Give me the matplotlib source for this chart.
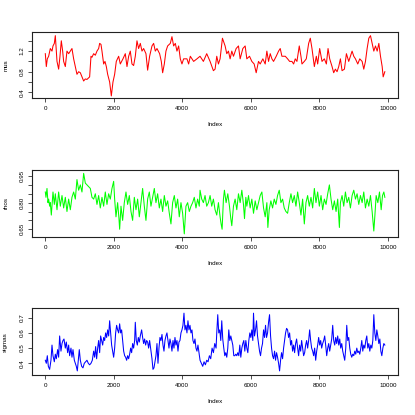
import numpy as np
import matplotlib
matplotlib.use("Agg")
import matplotlib.pyplot as plt

# MCMC traces (iteration index, value)
mus_trace = [
    (0, 1.15), (29, 0.90), (58, 1.05), (97, 1.10), (146, 1.25), (195, 1.20), (224, 1.30),
    (263, 1.35), (292, 1.50), (341, 1.00), (389, 0.85), (428, 1.10), (467, 1.40), (506, 1.20),
    (535, 1.00), (584, 0.90), (632, 1.20), (681, 1.15), (730, 1.20), (778, 1.25), (827, 1.05),
    (876, 0.90), (924, 0.75), (973, 0.80), (1022, 0.78), (1070, 0.70), (1119, 0.62), (1168, 0.66),
    (1216, 0.65), (1265, 0.68), (1294, 0.70), (1333, 1.10), (1362, 1.08), (1411, 1.15), (1460, 1.12),
    (1508, 1.20), (1557, 1.25), (1586, 1.35), (1625, 1.33), (1654, 1.20), (1703, 0.95), (1742, 1.00),
    (1781, 0.90), (1820, 0.75), (1878, 0.60), (1927, 0.33), (1975, 0.60), (2024, 0.75), (2072, 1.00),
    (2141, 1.10), (2189, 0.95), (2267, 1.05), (2335, 1.15), (2384, 0.90), (2433, 1.10), (2481, 1.20),
    (2530, 0.95), (2578, 0.92), (2627, 1.10), (2676, 1.40), (2724, 1.25), (2773, 1.35), (2822, 1.20),
    (2870, 1.25), (2938, 1.15), (2987, 0.83), (3045, 1.10), (3114, 1.30), (3162, 1.35), (3211, 1.20),
    (3260, 1.25), (3337, 1.15), (3386, 1.00), (3425, 0.78), (3474, 0.95), (3522, 1.20), (3571, 1.30),
    (3649, 1.35), (3697, 1.48), (3746, 1.30), (3795, 1.35), (3843, 1.20), (3892, 1.30), (3941, 1.05),
    (3989, 0.95), (4038, 1.05), (4135, 1.05), (4184, 0.95), (4233, 1.10), (4330, 1.00), (4427, 1.05),
    (4517, 1.10), (4615, 1.00), (4712, 1.15), (4810, 1.00), (4907, 0.82), (4956, 0.85), (5005, 1.10),
    (5054, 0.95), (5102, 1.05), (5171, 1.45), (5249, 1.30), (5297, 1.15), (5346, 1.20), (5395, 1.05),
    (5444, 1.20), (5493, 1.10), (5571, 1.25), (5639, 1.30), (5688, 1.05), (5766, 1.25), (5834, 1.30),
    (5883, 1.05), (5961, 1.10), (6029, 1.00), (6097, 0.95), (6156, 0.78), (6224, 1.00), (6273, 0.95),
    (6351, 1.05), (6419, 0.95), (6468, 1.20), (6517, 1.00), (6566, 1.15), (6615, 1.05), (6663, 1.00),
    (6741, 1.10), (6810, 1.20), (6858, 1.25), (6907, 1.10), (7005, 1.10), (7073, 1.05), (7132, 1.00),
    (7200, 1.00), (7249, 0.95), (7297, 1.05), (7346, 1.00), (7414, 1.30), (7463, 1.10), (7493, 0.95),
    (7561, 1.00), (7619, 1.05), (7688, 1.35), (7736, 1.45), (7785, 1.25), (7854, 0.90), (7912, 1.10),
    (7951, 0.95), (8010, 1.25), (8078, 1.00), (8146, 1.05), (8205, 0.95), (8254, 1.25), (8302, 1.05),
    (8371, 0.90), (8419, 0.78), (8468, 0.85), (8517, 0.80), (8566, 0.90), (8615, 1.05), (8663, 0.82),
    (8732, 0.85), (8790, 1.15), (8858, 1.00), (8907, 1.10), (8956, 1.20), (9005, 1.10), (9054, 1.05),
    (9122, 0.95), (9180, 1.05), (9249, 1.00), (9297, 0.85), (9346, 1.00), (9395, 1.25), (9444, 1.45),
    (9493, 1.50), (9541, 1.35), (9590, 1.20), (9639, 1.30), (9688, 1.20), (9737, 1.35), (9785, 1.10),
    (9834, 0.90), (9863, 0.70), (9912, 0.80),
]

rhos_trace = [
    (0, 0.86), (19, 0.83), (49, 0.88), (78, 0.80), (97, 0.82), (126, 0.78), (146, 0.80), (175, 0.73),
    (224, 0.86), (263, 0.79), (292, 0.85), (341, 0.76), (389, 0.86), (438, 0.78), (487, 0.84),
    (535, 0.77), (584, 0.83), (632, 0.75), (681, 0.82), (730, 0.76), (778, 0.83), (827, 0.86),
    (876, 0.82), (924, 0.93), (973, 0.87), (1022, 0.90), (1070, 0.86), (1119, 0.965), (1168, 0.91),
    (1216, 0.90), (1265, 0.89), (1314, 0.88), (1362, 0.83), (1411, 0.82), (1460, 0.85), (1508, 0.79),
    (1557, 0.84), (1605, 0.77), (1654, 0.83), (1703, 0.78), (1751, 0.86), (1800, 0.79), (1849, 0.85),
    (1897, 0.82), (1946, 0.88), (1995, 0.92), (2024, 0.82), (2063, 0.72), (2111, 0.80), (2150, 0.71),
    (2170, 0.65), (2209, 0.78), (2257, 0.70), (2306, 0.80), (2355, 0.86), (2403, 0.79), (2452, 0.84),
    (2501, 0.75), (2549, 0.70), (2598, 0.83), (2647, 0.76), (2695, 0.82), (2744, 0.72), (2792, 0.80),
    (2841, 0.88), (2890, 0.78), (2938, 0.70), (2987, 0.82), (3036, 0.86), (3084, 0.78), (3133, 0.83),
    (3182, 0.88), (3230, 0.80), (3279, 0.85), (3328, 0.77), (3376, 0.82), (3425, 0.75), (3474, 0.84),
    (3522, 0.78), (3571, 0.81), (3620, 0.74), (3668, 0.68), (3717, 0.80), (3766, 0.84), (3814, 0.77),
    (3863, 0.82), (3911, 0.72), (3960, 0.80), (4009, 0.74), (4057, 0.624), (4106, 0.78), (4155, 0.80),
    (4203, 0.75), (4252, 0.78), (4301, 0.80), (4349, 0.83), (4398, 0.77), (4447, 0.82), (4495, 0.78),
    (4517, 0.87), (4566, 0.82), (4615, 0.80), (4663, 0.84), (4712, 0.78), (4761, 0.80), (4810, 0.84),
    (4858, 0.78), (4907, 0.82), (4956, 0.76), (5005, 0.73), (5054, 0.80), (5102, 0.72), (5132, 0.68),
    (5161, 0.65), (5200, 0.82), (5229, 0.87), (5278, 0.80), (5327, 0.85), (5376, 0.78), (5415, 0.71),
    (5444, 0.67), (5493, 0.78), (5541, 0.82), (5590, 0.76), (5639, 0.85), (5688, 0.80), (5737, 0.87),
    (5785, 0.79), (5815, 0.71), (5854, 0.83), (5883, 0.78), (5932, 0.84), (5980, 0.77), (6029, 0.82),
    (6078, 0.74), (6127, 0.81), (6176, 0.76), (6224, 0.80), (6273, 0.84), (6322, 0.86), (6371, 0.77),
    (6419, 0.72), (6468, 0.80), (6497, 0.66), (6536, 0.76), (6585, 0.81), (6634, 0.77), (6683, 0.82),
    (6732, 0.79), (6780, 0.84), (6829, 0.87), (6878, 0.80), (6927, 0.82), (6975, 0.77), (7024, 0.75),
    (7073, 0.74), (7122, 0.80), (7171, 0.85), (7219, 0.80), (7268, 0.84), (7317, 0.78), (7366, 0.86),
    (7414, 0.80), (7463, 0.73), (7512, 0.82), (7561, 0.68), (7610, 0.80), (7658, 0.84), (7707, 0.78),
    (7756, 0.83), (7805, 0.77), (7854, 0.88), (7902, 0.80), (7951, 0.86), (8000, 0.78), (8049, 0.84),
    (8097, 0.76), (8146, 0.82), (8195, 0.79), (8244, 0.85), (8293, 0.90), (8341, 0.82), (8390, 0.76),
    (8439, 0.81), (8488, 0.75), (8536, 0.82), (8585, 0.66), (8615, 0.80), (8663, 0.84), (8712, 0.78),
    (8761, 0.86), (8810, 0.80), (8858, 0.83), (8907, 0.77), (8956, 0.84), (9005, 0.87), (9054, 0.82),
    (9102, 0.85), (9151, 0.79), (9200, 0.84), (9249, 0.80), (9297, 0.86), (9346, 0.77), (9395, 0.82),
    (9444, 0.78), (9493, 0.84), (9541, 0.75), (9590, 0.64), (9619, 0.72), (9658, 0.84), (9707, 0.80),
    (9756, 0.86), (9805, 0.76), (9844, 0.84), (9883, 0.86), (9912, 0.83),
]

sigmas_trace = [
    (0, 0.42), (29, 0.40), (58, 0.45), (88, 0.38), (126, 0.36), (165, 0.42), (195, 0.52), (224, 0.45),
    (263, 0.41), (292, 0.46), (321, 0.43), (360, 0.49), (389, 0.44), (418, 0.58), (457, 0.48),
    (487, 0.53), (516, 0.55), (545, 0.56), (584, 0.50), (613, 0.54), (652, 0.47), (681, 0.52),
    (710, 0.45), (749, 0.50), (778, 0.44), (808, 0.49), (847, 0.42), (876, 0.40), (905, 0.38),
    (934, 0.35), (963, 0.42), (992, 0.49), (1022, 0.42), (1061, 0.38), (1099, 0.37), (1138, 0.40),
    (1177, 0.41), (1216, 0.42), (1255, 0.40), (1294, 0.39), (1333, 0.40), (1372, 0.42), (1411, 0.48),
    (1440, 0.44), (1469, 0.51), (1498, 0.43), (1528, 0.50), (1557, 0.55), (1586, 0.47), (1615, 0.58),
    (1644, 0.55), (1674, 0.52), (1703, 0.57), (1732, 0.55), (1761, 0.60), (1790, 0.57), (1820, 0.62),
    (1849, 0.58), (1878, 0.68), (1907, 0.60), (1936, 0.52), (1965, 0.48), (1995, 0.44), (2024, 0.50),
    (2053, 0.60), (2082, 0.65), (2111, 0.62), (2141, 0.60), (2170, 0.66), (2199, 0.60), (2228, 0.62),
    (2257, 0.55), (2287, 0.48), (2316, 0.45), (2345, 0.44), (2374, 0.42), (2403, 0.45), (2433, 0.43),
    (2462, 0.46), (2491, 0.50), (2520, 0.47), (2549, 0.53), (2578, 0.50), (2608, 0.55), (2627, 0.67),
    (2656, 0.55), (2686, 0.52), (2715, 0.57), (2744, 0.54), (2773, 0.58), (2812, 0.62), (2841, 0.57),
    (2870, 0.53), (2899, 0.56), (2929, 0.52), (2958, 0.55), (2987, 0.54), (3016, 0.50), (3045, 0.55),
    (3084, 0.48), (3114, 0.43), (3143, 0.36), (3172, 0.37), (3201, 0.41), (3230, 0.45), (3260, 0.53),
    (3289, 0.40), (3318, 0.50), (3347, 0.57), (3376, 0.55), (3406, 0.59), (3435, 0.52), (3464, 0.48),
    (3493, 0.55), (3522, 0.58), (3551, 0.60), (3581, 0.55), (3610, 0.50), (3639, 0.56), (3668, 0.53),
    (3697, 0.48), (3727, 0.55), (3756, 0.50), (3785, 0.57), (3814, 0.52), (3843, 0.55), (3873, 0.48),
    (3902, 0.54), (3931, 0.55), (3960, 0.60), (3989, 0.62), (4018, 0.65), (4048, 0.73), (4077, 0.62),
    (4106, 0.65), (4135, 0.60), (4164, 0.68), (4194, 0.62), (4223, 0.65), (4252, 0.60), (4281, 0.62),
    (4310, 0.55), (4340, 0.53), (4369, 0.56), (4398, 0.50), (4427, 0.48), (4456, 0.52), (4486, 0.47),
    (4517, 0.42), (4556, 0.40), (4595, 0.38), (4634, 0.41), (4673, 0.39), (4712, 0.42), (4751, 0.41),
    (4790, 0.45), (4829, 0.43), (4868, 0.50), (4907, 0.47), (4946, 0.53), (4985, 0.50), (5005, 0.60),
    (5034, 0.72), (5063, 0.60), (5093, 0.62), (5122, 0.55), (5151, 0.68), (5180, 0.56), (5210, 0.50),
    (5239, 0.45), (5268, 0.47), (5297, 0.44), (5327, 0.50), (5356, 0.62), (5385, 0.55), (5415, 0.58),
    (5444, 0.55), (5473, 0.52), (5502, 0.45), (5532, 0.45), (5561, 0.46), (5590, 0.45), (5619, 0.47),
    (5649, 0.45), (5678, 0.52), (5707, 0.44), (5737, 0.50), (5766, 0.53), (5795, 0.55), (5824, 0.48),
    (5854, 0.55), (5883, 0.50), (5912, 0.47), (5941, 0.55), (5971, 0.60), (6000, 0.57), (6029, 0.62),
    (6058, 0.55), (6078, 0.73), (6107, 0.58), (6137, 0.62), (6166, 0.68), (6195, 0.58), (6224, 0.53),
    (6254, 0.48), (6283, 0.45), (6312, 0.50), (6341, 0.53), (6371, 0.62), (6400, 0.57), (6429, 0.65),
    (6458, 0.57), (6488, 0.60), (6517, 0.67), (6546, 0.72), (6576, 0.58), (6605, 0.50), (6634, 0.45),
    (6663, 0.43), (6693, 0.48), (6722, 0.42), (6751, 0.47), (6780, 0.44), (6810, 0.40), (6839, 0.35),
    (6868, 0.42), (6897, 0.47), (6927, 0.43), (6956, 0.50), (6985, 0.55), (7014, 0.60), (7044, 0.63),
    (7073, 0.62), (7102, 0.57), (7132, 0.60), (7161, 0.52), (7190, 0.55), (7219, 0.48), (7249, 0.52),
    (7278, 0.47), (7307, 0.53), (7336, 0.56), (7366, 0.50), (7395, 0.45), (7424, 0.52), (7454, 0.48),
    (7483, 0.55), (7512, 0.50), (7541, 0.45), (7571, 0.47), (7600, 0.52), (7629, 0.55), (7658, 0.50),
    (7688, 0.55), (7717, 0.62), (7746, 0.55), (7775, 0.50), (7805, 0.48), (7834, 0.45), (7863, 0.50),
    (7893, 0.42), (7922, 0.48), (7951, 0.52), (7980, 0.57), (8010, 0.52), (8039, 0.55), (8068, 0.50),
    (8097, 0.53), (8127, 0.55), (8156, 0.58), (8185, 0.52), (8215, 0.45), (8244, 0.50), (8273, 0.53),
    (8302, 0.48), (8332, 0.52), (8361, 0.56), (8390, 0.65), (8419, 0.55), (8449, 0.52), (8478, 0.57),
    (8507, 0.53), (8536, 0.58), (8566, 0.52), (8595, 0.56), (8624, 0.50), (8654, 0.53), (8683, 0.48),
    (8712, 0.45), (8741, 0.42), (8771, 0.50), (8800, 0.65), (8829, 0.55), (8858, 0.57), (8888, 0.50),
    (8917, 0.46), (8946, 0.44), (8975, 0.46), (9005, 0.45), (9034, 0.48), (9063, 0.46), (9093, 0.50),
    (9122, 0.47), (9151, 0.48), (9180, 0.46), (9210, 0.50), (9239, 0.55), (9268, 0.48), (9297, 0.52),
    (9327, 0.50), (9356, 0.55), (9385, 0.58), (9414, 0.50), (9444, 0.53), (9473, 0.48), (9502, 0.52),
    (9532, 0.50), (9561, 0.55), (9590, 0.72), (9619, 0.60), (9649, 0.55), (9678, 0.62), (9707, 0.58),
    (9737, 0.53), (9766, 0.56), (9795, 0.48), (9824, 0.45), (9854, 0.50), (9883, 0.53), (9912, 0.52),
]

x_ticks = [0, 2000, 4000, 6000, 8000, 10000]

# panel settings: name, trace, colour, ylim, yticks, labelled yticks
panels = [
    ("mus", mus_trace, "#ff0000", (0.284, 1.565),
     [0.4, 0.6, 0.8, 1.0, 1.2, 1.4], ["0.4", "", "0.8", "", "1.2", ""]),
    ("rhos", rhos_trace, "#00ff00", (0.608, 0.984),
     [0.65, 0.70, 0.75, 0.80, 0.85, 0.90, 0.95], ["0.65", "", "", "0.80", "", "", "0.95"]),
    ("sigmas", sigmas_trace, "#0000ff", (0.323, 0.762),
     [0.4, 0.5, 0.6, 0.7], ["0.4", "0.5", "0.6", "0.7"]),
]

plt.rcParams['font.family'] = ['Liberation Sans', 'DejaVu Sans']
fs = 4.5
W = H = 415.0
fig = plt.figure(figsize=(W / 100, H / 100), dpi=100)

# axes boxes in pixels (top, bottom)
boxes = [(32.3, 98.3), (170.0, 236.7), (308.3, 375.0)]
left_px, right_px = 32.3, 398.3

for (name, trace, col, ylim, yt, ytl), (top, bot) in zip(panels, boxes):
    ax = fig.add_axes([left_px / W, 1 - bot / H, (right_px - left_px) / W, (bot - top) / H])
    idx = [p[0] for p in trace]
    val = [p[1] for p in trace]
    ax.plot(idx, val, color=col, lw=0.75)
    ax.set_xlim(-380, 10305)
    ax.set_ylim(*ylim)
    ax.set_xticks(x_ticks)
    ax.set_xticklabels([str(t) for t in x_ticks])
    ax.set_yticks(yt)
    ax.set_yticklabels(ytl, rotation=90, va='center')
    ax.tick_params(direction='out', length=2.9, width=0.6, labelsize=fs, pad=2.8, color='#333333')
    for s in ax.spines.values():
        s.set_linewidth(0.8)
        s.set_color('#222222')
    ax.set_xlabel("Index", fontsize=fs)
    ax.set_ylabel(name, fontsize=fs)
    hpx = bot - top
    ax.xaxis.set_label_coords(0.5, -24.0 / hpx)
    ax.yaxis.set_label_coords(-24.0 / (right_px - left_px), 0.5)

fig.savefig("out.png", dpi=100)
